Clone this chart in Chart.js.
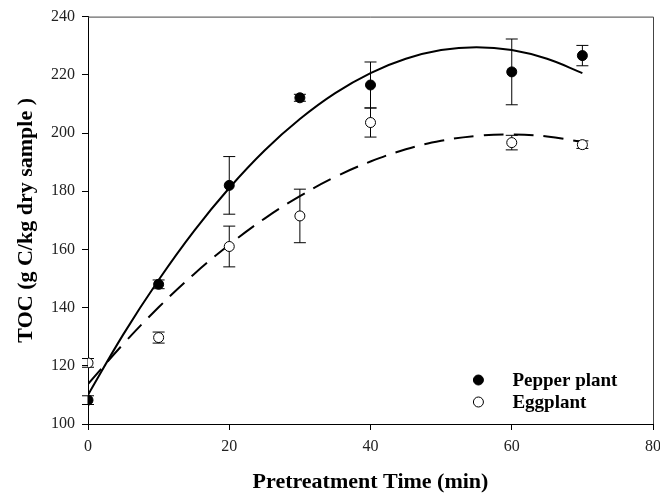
<!DOCTYPE html>
<html lang="en">
<head>
  <meta charset="UTF-8">
  <title>TOC vs Pretreatment Time</title>
  <script src="https://cdn.jsdelivr.net/npm/chart.js"></script>
  <style>
    body {
      margin: 0;
      background: #fff;
    }
    #myChart {
      display: block;
    }
  </style>
</head>
<body>
  <canvas id="myChart" width="660" height="497"></canvas>

  <script>
    // measured points (mean and +/- error)
    const times = [0, 10, 20, 30, 40, 60, 70];
    const pepperToc = [108.2, 148.0, 182.0, 212.1, 216.5, 221.0, 226.6];
    const pepperErr = [1.5, 1.5, 9.9, 1.2, 7.9, 11.3, 3.5];
    const eggplantToc = [121.0, 129.7, 161.0, 171.5, 203.6, 196.7, 196.0];
    const eggplantErr = [1.5, 1.9, 7.0, 9.2, 5.0, 2.5, 1.3];

    // fitted curves, every 5 min
    const fitTimes = [0, 5, 10, 15, 20, 25, 30, 35, 40, 45, 50, 55, 60, 65, 70];
    const pepperFit = [110.0, 130.8, 149.5, 166.3, 181.1, 194.0, 204.8, 213.7, 220.6, 225.5, 228.5, 229.5, 228.5, 225.5, 220.6];
    const eggplantFit = [113.7, 127.5, 140.1, 151.5, 161.6, 170.6, 178.3, 184.9, 190.2, 194.4, 197.3, 199.0, 199.5, 198.8, 196.9];

    const xTicks = [0, 20, 40, 60, 80];
    const yTicks = [100, 120, 140, 160, 180, 200, 220, 240];
    const legendLabels = ['Pepper plant', 'Eggplant'];

    const serif = '"Liberation Serif", "Times New Roman", serif';

    const toPoints = (xs, ys) => xs.map((x, i) => ({ x: x, y: ys[i] }));

    const errorBars = {
      id: 'errorBars',
      beforeDatasetsDraw(chart) {
        const ctx = chart.ctx;
        const xs = chart.scales.x, ys = chart.scales.y;
        const sets = [[pepperToc, pepperErr], [eggplantToc, eggplantErr]];
        ctx.save();
        ctx.strokeStyle = '#000';
        ctx.lineWidth = 1;
        sets.forEach(([vals, errs]) => {
          times.forEach((t, i) => {
            const px = xs.getPixelForValue(t);
            const top = ys.getPixelForValue(vals[i] + errs[i]);
            const bot = ys.getPixelForValue(vals[i] - errs[i]);
            ctx.beginPath();
            ctx.moveTo(px, top); ctx.lineTo(px, bot);
            ctx.moveTo(px - 6, top); ctx.lineTo(px + 6, top);
            ctx.moveTo(px - 6, bot); ctx.lineTo(px + 6, bot);
            ctx.stroke();
          });
        });
        ctx.restore();
      }
    };

    const frameAndLegend = {
      id: 'frameAndLegend',
      afterDraw(chart) {
        const ctx = chart.ctx;
        const a = chart.chartArea;
        ctx.save();
        ctx.strokeStyle = '#444';
        ctx.lineWidth = 1;
        ctx.beginPath();
        ctx.moveTo(a.left, a.top + 0.5);
        ctx.lineTo(a.right + 0.5, a.top + 0.5);
        ctx.lineTo(a.right + 0.5, a.bottom);
        ctx.stroke();

        // legend, lower right inside the plot
        const lx = a.left + (a.right - a.left) * 0.691;
        const ly = a.top + (a.bottom - a.top) * 0.892;
        ctx.font = 'bold 19px ' + serif;
        ctx.textBaseline = 'middle';
        ctx.fillStyle = '#000';
        legendLabels.forEach((label, i) => {
          const y = ly + i * 22;
          ctx.beginPath();
          ctx.arc(lx, y, 5, 0, Math.PI * 2);
          ctx.fillStyle = i === 0 ? '#000' : '#fff';
          ctx.fill();
          ctx.strokeStyle = '#000';
          ctx.stroke();
          ctx.fillStyle = '#000';
          ctx.fillText(label, lx + 34, y + 1);
        });
        ctx.restore();
      }
    };

    new Chart(document.getElementById('myChart'), {
      type: 'scatter',
      data: {
        datasets: [
          {
            label: legendLabels[0],
            data: toPoints(times, pepperToc),
            pointRadius: 5,
            pointBackgroundColor: '#000',
            pointBorderColor: '#000',
            pointBorderWidth: 1,
            showLine: false
          },
          {
            label: legendLabels[1],
            data: toPoints(times, eggplantToc),
            pointRadius: 5,
            pointBackgroundColor: '#fff',
            pointBorderColor: '#000',
            pointBorderWidth: 1,
            showLine: false
          },
          {
            label: 'Pepper fit',
            type: 'line',
            data: toPoints(fitTimes, pepperFit),
            borderColor: '#000',
            borderWidth: 2,
            pointRadius: 0,
            tension: 0.4,
            fill: false
          },
          {
            label: 'Eggplant fit',
            type: 'line',
            data: toPoints(fitTimes, eggplantFit),
            borderColor: '#000',
            borderWidth: 2,
            borderDash: [20, 10],
            pointRadius: 0,
            tension: 0.4,
            fill: false
          }
        ]
      },
      options: {
        responsive: false,
        animation: false,
        layout: { padding: { left: 0, right: 7, top: 16, bottom: 0 } },
        plugins: {
          legend: { display: false },
          tooltip: { enabled: false }
        },
        scales: {
          x: {
            type: 'linear',
            min: 0,
            max: 80,
            afterFit: s => { s.height = 73; s.paddingRight = 0; s.paddingLeft = 0; },
            afterBuildTicks: s => { s.ticks = xTicks.map(v => ({ value: v })); },
            grid: { display: true, drawOnChartArea: false, tickLength: 6, tickColor: '#000' },
            border: { display: true, color: '#000', width: 1 },
            ticks: { color: '#222', padding: 7, font: { family: serif, size: 16 } },
            title: {
              display: true,
              text: 'Pretreatment Time (min)',
              color: '#000',
              padding: { top: 0, bottom: 1 },
              font: { family: serif, size: 22, weight: 'bold' }
            }
          },
          y: {
            type: 'linear',
            min: 100,
            max: 240,
            afterFit: s => { s.width = 88; },
            afterBuildTicks: s => { s.ticks = yTicks.map(v => ({ value: v })); },
            grid: { display: true, drawOnChartArea: false, tickLength: 6, tickColor: '#000' },
            border: { display: true, color: '#000', width: 1 },
            ticks: { color: '#222', padding: 7, font: { family: serif, size: 16 } },
            title: {
              display: true,
              text: 'TOC (g C/kg dry sample )',
              color: '#000',
              padding: { top: 13, bottom: 0 },
              font: { family: serif, size: 22, weight: 'bold' }
            }
          }
        }
      },
      plugins: [errorBars, frameAndLegend]
    });
  </script>
</body>
</html>
